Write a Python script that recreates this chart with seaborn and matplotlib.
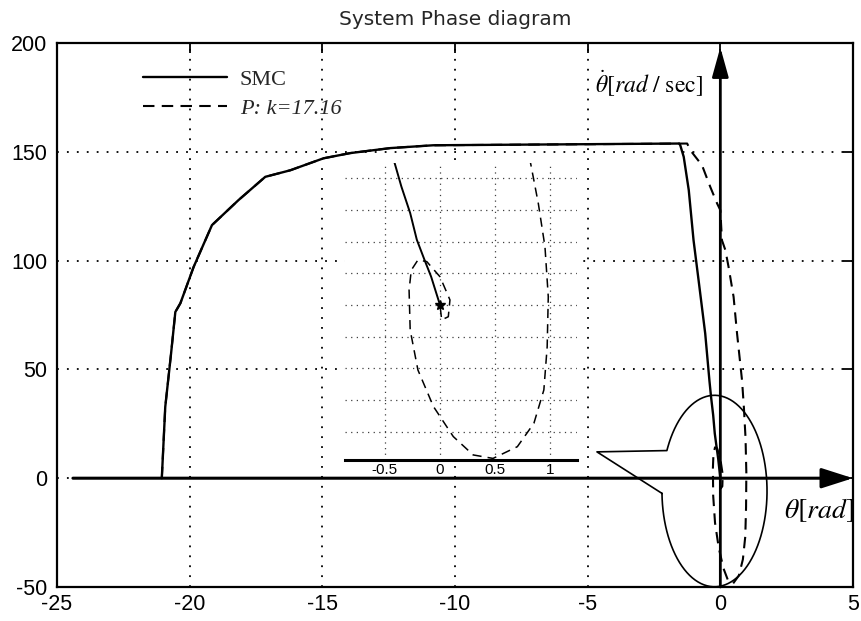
import numpy as np
import matplotlib
matplotlib.use("Agg")
import matplotlib.pyplot as plt
import seaborn as sns
from matplotlib.font_manager import FontProperties

# ---------------- data ----------------
# common acceleration phase (both controllers start from theta=-21 rad, omega=0)
rise_theta = [-21.05, -20.92, -20.70, -20.54, -20.35, -19.85, -19.16, -18.16,
              -17.15, -16.21, -14.96, -13.95, -12.44, -10.82]
rise_omega = [0.0, 32.8, 57.4, 76.4, 80.4, 97.1, 116.3, 127.8,
              138.5, 141.5, 147.0, 149.4, 151.7, 153.0]

# SMC trajectory (solid)
smc_theta = rise_theta + [-1.55, -1.51, -1.38, -1.19, -1.01, -0.82, -0.57, -0.41,
                          -0.35, -0.27, -0.21, -0.14, -0.08, 0.0]
smc_omega = rise_omega + [153.8, 153.0, 147.7, 132.4, 109.4, 91.0, 66.5, 44.7,
                          37.4, 29.0, 20.6, 14.2, 8.9, 0.0]

# P controller trajectory (dashed), k = 17.16
p_theta = rise_theta + [-1.25, -1.13, -0.69, -0.38, -0.12, 0.0, 0.06, 0.19, 0.31, 0.50, 0.63,
                        0.82, 0.89, 0.95, 0.98, 0.97, 0.94, 0.85, 0.70, 0.48, 0.30, 0.12,
                        -0.06, -0.20, -0.27, -0.28, -0.26, -0.20, -0.12, 0.0,
                        0.09, 0.075, 0.015, 0.0]
p_omega = rise_omega + [153.8, 150.7, 143.8, 133.9, 126.2, 123.2, 109.4, 104.8, 97.1, 83.3, 66.5,
                        44.7, 32.0, 18.4, 2.6, -13.2, -26.8, -37.3, -44.7, -48.4, -47.3, -41.5,
                        -32.0, -20.5, -7.9, 4.7, 11.0, 14.2, 13.7, 8.9,
                        1.6, -3.7, -4.7, 0.0]

series_labels = ["SMC", "P: k=17.16"]
title_text = "System Phase diagram"
x_ticks = [-25, -20, -15, -10, -5, 0, 5]
y_ticks = [-50, 0, 50, 100, 150, 200]
inset_x_ticks = [-0.5, 0, 0.5, 1]
inset_x_ticklabels = ["-0.5", "0", "0.5", "1"]
inset_y_grid = [-40, -30, -20, -10, 0, 10, 20, 30, 40]

# ---------------- style ----------------
sns.set_style("white")
plt.rcParams["font.family"] = ["Liberation Sans", "DejaVu Sans"]
plt.rcParams["mathtext.fontset"] = "stix"
plt.rcParams["axes.unicode_minus"] = False

W, H = 861, 621
fig = plt.figure(figsize=(W / 100, H / 100), dpi=100)
fig.patch.set_facecolor("white")

# main axes (pixel box: left 57, right 853, top 43, bottom 587)
ax = fig.add_axes([57 / W, 1 - 587 / H, 796 / W, 544 / H])
ax.set_facecolor("white")

dash_main = (0, (5.5, 3.5))
sns.lineplot(x=p_theta, y=p_omega, sort=False, estimator=None, ax=ax,
             color="k", lw=1.5, linestyle=dash_main, label=series_labels[1], zorder=3)
sns.lineplot(x=smc_theta, y=smc_omega, sort=False, estimator=None, ax=ax,
             color="k", lw=1.7, label=series_labels[0], zorder=4)

ax.set_xlim(-25, 5)
ax.set_ylim(-50, 200)
ax.set_xticks(x_ticks)
ax.set_yticks(y_ticks)
ax.set_xlabel("")
ax.set_ylabel("")
ax.grid(True, color="k", linestyle=(0, (1, 4.5)), linewidth=1.3)
ax.set_axisbelow(True)
ax.tick_params(direction="in", length=7, width=1.3, top=True, right=True,
               labelsize=15.5, colors="k")
ax.tick_params(axis="x", pad=5)
ax.tick_params(axis="y", pad=7)
for s in ax.spines.values():
    s.set_visible(True)
    s.set_color("k")
    s.set_linewidth(1.6)

ax.set_title(title_text, fontsize=14.5, family=["DejaVu Sans"], pad=13)

# legend (frameless, serif)
h, l = ax.get_legend_handles_labels()
order = [l.index(series_labels[0]), l.index(series_labels[1])]
leg = ax.legend([h[i] for i in order], [l[i] for i in order], loc="upper left",
                bbox_to_anchor=(0.108, 0.951), frameon=False,
                prop=FontProperties(family="Liberation Serif", size=16),
                handlelength=3.8, handletextpad=0.55, labelspacing=0.36,
                borderpad=0, borderaxespad=0)
leg.get_texts()[1].set_style("italic")

# coordinate arrows
ax.annotate("", xy=(5, 0), xytext=(-24.4, 0), annotation_clip=False,
            arrowprops=dict(arrowstyle="-|>,head_length=0.97,head_width=0.31",
                            mutation_scale=20, lw=2.2, color="k",
                            shrinkA=0, shrinkB=0), zorder=6)
ax.annotate("", xy=(0, 198), xytext=(0, -50), annotation_clip=False,
            arrowprops=dict(arrowstyle="-|>,head_length=0.9,head_width=0.25",
                            mutation_scale=20, lw=2.0, color="k",
                            shrinkA=0, shrinkB=0), zorder=6)

ax.text(-0.66, 177.4, r"$\dot{\theta}[\mathit{rad}\ /\ \mathrm{sec}]$",
        ha="right", va="baseline", fontsize=17, color="k")
ax.text(5.04, -18.4, r"$\theta[\mathit{rad}]$",
        ha="right", va="baseline", fontsize=20, color="k")

# callout ellipse around the origin
ell_cx, ell_cy, ell_a, ell_b = -0.22, -5.9, 1.98, 44.0
ell_start, ell_end = 181.4, 515.0
apex_x, apex_y = -4.65, 12.1
tt = np.deg2rad(np.linspace(ell_start, ell_end, 300))
cx = list(ell_cx + ell_a * np.cos(tt))
cy = list(ell_cy + ell_b * np.sin(tt))
ax.plot(cx + [apex_x, cx[0]], cy + [apex_y, cy[0]], color="k", lw=1.2,
        zorder=5, clip_on=False)

# ---------------- inset (zoom around the origin) ----------------
axi = fig.add_axes([345 / W, 1 - 460 / H, 232 / W, 297 / H])
axi.set_facecolor("white")
sns.lineplot(x=p_theta, y=p_omega, sort=False, estimator=None, ax=axi,
             color="k", lw=1.1, linestyle=(0, (6, 4)), zorder=3)
sns.lineplot(x=smc_theta, y=smc_omega, sort=False, estimator=None, ax=axi,
             color="k", lw=1.4, zorder=4)
axi.plot([smc_theta[-1]], [smc_omega[-1]], marker="*", ms=7, color="k", zorder=5)
axi.set_xlim(-0.86, 1.24)
axi.set_ylim(-48.9, 44.8)
axi.set_xticks(inset_x_ticks)
axi.set_xticklabels(inset_x_ticklabels)
axi.set_yticks(inset_y_grid)
axi.set_xlabel("")
axi.set_ylabel("")
axi.grid(True, color="0.25", linestyle=(0, (1, 3.5)), linewidth=0.9)
axi.set_axisbelow(True)
axi.tick_params(axis="y", length=0, labelleft=False)
axi.tick_params(axis="x", length=0, labelsize=11, pad=2, colors="k")
for side in ["left", "right", "top"]:
    axi.spines[side].set_visible(False)
axi.spines["bottom"].set_visible(True)
axi.spines["bottom"].set_color("k")
axi.spines["bottom"].set_linewidth(2.2)
if axi.get_legend() is not None:
    axi.get_legend().remove()

fig.savefig("out.png", dpi=100, facecolor="white")
